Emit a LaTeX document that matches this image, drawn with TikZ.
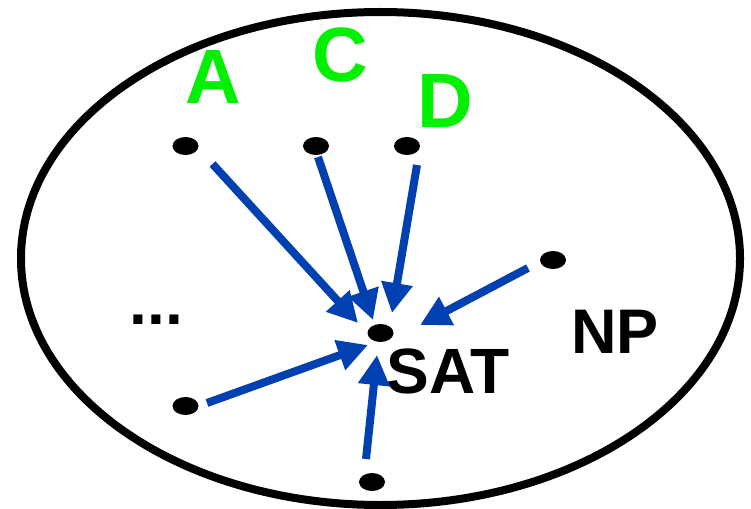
\documentclass[tikz,border=0pt]{standalone}
\usepackage{fontspec}
\setmainfont{Liberation Sans}
\usetikzlibrary{arrows.meta,calc}
\definecolor{arrblue}{RGB}{0,64,176}
\definecolor{lblgreen}{RGB}{0,240,0}
\tikzset{
  dotnode/.style={ellipse,fill=black,minimum width=26pt,minimum height=18pt,inner sep=0pt},
  arr/.style={draw=arrblue,line width=8pt,-{Triangle[length=30pt,width=30pt]}},
  greenlbl/.style={anchor=base,inner sep=0pt,text=lblgreen,font=\fontsize{77}{77}\selectfont\bfseries},
  blacklbl/.style={anchor=base,inner sep=0pt,text=black,font=\fontsize{64}{64}\selectfont\bfseries}
}
\usetikzlibrary{shapes.geometric}
\begin{document}
\begin{tikzpicture}[x=1pt,y=-1pt]
\useasboundingbox (0,0) rectangle (751,508);
\draw[line width=8pt] (380.5,258.5) ellipse [x radius=359.5, y radius=246.5];
\node[dotnode] (a) at (185.5,146) {};
\node[dotnode] (c) at (316,146) {};
\node[dotnode] (d) at (407,146) {};
\node[dotnode] (e) at (553,260) {};
\node[dotnode] (sat) at (380.5,333) {};
\node[dotnode] (f) at (185.5,406) {};
\node[dotnode] (g) at (372,482) {};
\node[greenlbl] (la) at (213.5,103) {A};
\node[greenlbl] (lc) at (340,81.5) {C};
\node[greenlbl] (ld) at (445.5,128) {D};
\node[blacklbl] (lsat) at (448,393) {SAT};
\node[blacklbl,font=\fontsize{63}{63}\selectfont\bfseries] (lnp) at (615,353) {NP};
\node[blacklbl] (dots) at (156.5,324) {...};
\draw[arr] ($(a)+(27,18)$) -- ($(sat)+(-22.5,-10)$);
\draw[arr] ($(c)+(2,11)$) -- ($(sat)+(-7.5,-13)$);
\draw[arr] ($(d)+(10,19)$) -- ($(sat)+(11.5,-20)$);
\draw[arr] ($(e)+(-25,8)$) -- ($(sat)+(39.5,-8)$);
\draw[arr] ($(f)+(21.5,-3)$) -- ($(sat)+(-12.5,12)$);
\draw[arr] ($(g)+(-6,-23)$) -- ($(sat)+(-3.5,22)$);
\end{tikzpicture}
\end{document}
